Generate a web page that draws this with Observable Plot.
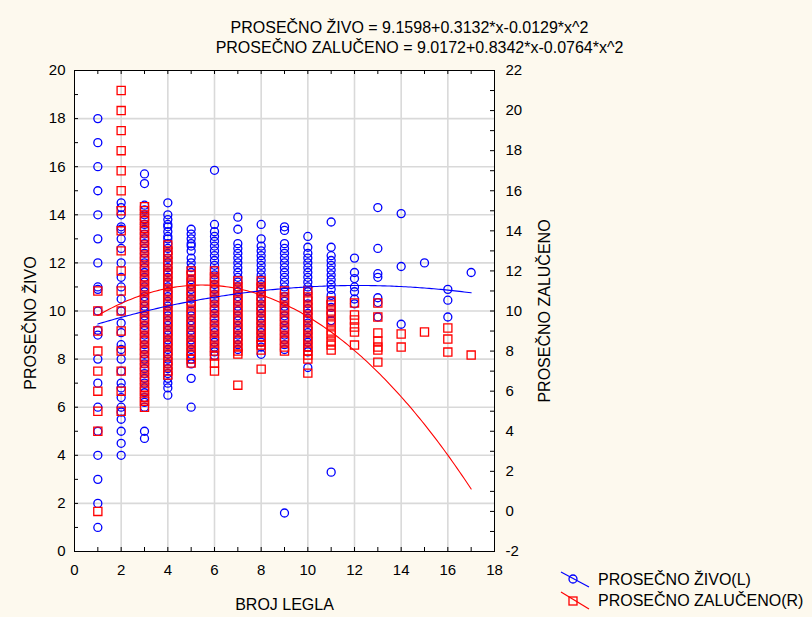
<!DOCTYPE html>
<html>
<head>
<meta charset="utf-8">
<script src="https://cdn.jsdelivr.net/npm/d3@7"></script>
<script src="https://cdn.jsdelivr.net/npm/@observablehq/plot@0.6"></script>
<style>
  html, body { margin: 0; padding: 0; background: #fdf9ee; }
  #wrap { position: relative; width: 812px; height: 617px; background: #fdf9ee; font-family: "Liberation Sans", Arial, sans-serif; }
  #wrap svg.plot { position: absolute; left: 0; top: 0; }
  .leg { position: absolute; left: 598px; font-size: 16px; line-height: 20px; color: #000; white-space: nowrap; }
  #legicons { position: absolute; left: 556px; top: 565px; }
</style>
</head>
<body>
<div id="wrap"></div>
<script>
// ---- data ----
const leglaX = [1, 2, 3, 4, 5, 6, 7, 8, 9, 10, 11, 12, 13, 14, 15, 16, 17];

// PROSEČNO ŽIVO (left axis), one list per BROJ LEGLA value
const zivoValues = [
  [18, 17, 16, 15, 14, 13, 12, 11, 10.9, 10, 9.2, 9, 8, 7, 6, 5, 4, 3, 2, 1],
  [14.5, 14.3, 14, 13.5, 13.4, 13, 12.6, 12, 11.4, 11, 10.5, 10, 9.5, 9.1, 8.6, 8.4, 8, 7.5, 7, 6.8, 6.4, 6, 5.8, 5.5, 5, 4.5, 4],
  [15.7, 15.3, 14.4, 14.2, 14, 13.8, 13.6, 13.4, 13.2, 13, 12.8, 12.6, 12.4, 12.2, 12, 11.8, 11.6, 11.4, 11.2, 11, 10.8, 10.6, 10.4, 10.2, 10, 9.8, 9.6, 9.4, 9.2, 9, 8.8, 8.6, 8.4, 8.2, 8, 7.8, 7.6, 7.4, 7.2, 7, 6.8, 6.6, 6.4, 6.2, 6, 5, 4.7],
  [14.5, 14, 13.8, 13.6, 13.5, 13.3, 13.1, 13, 12.8, 12.6, 12.4, 12.2, 12, 11.8, 11.6, 11.4, 11.2, 11, 10.8, 10.6, 10.4, 10.2, 10, 9.8, 9.6, 9.4, 9.2, 9, 8.8, 8.6, 8.4, 8.2, 8, 7.8, 7.6, 7.4, 7.2, 7, 6.8, 6.5],
  [13.4, 13.2, 13, 12.8, 12.7, 12.5, 12.2, 12, 11.8, 11.6, 11.3, 11.1, 10.9, 10.7, 10.5, 10.3, 10, 9.8, 9.6, 9.4, 9.2, 9, 8.8, 8.6, 8.4, 8.2, 8, 7.8, 7.2, 6],
  [15.85, 13.6, 13.3, 13.1, 12.9, 12.7, 12.5, 12.3, 12.1, 11.9, 11.7, 11.5, 11.3, 11.1, 10.9, 10.7, 10.5, 10.3, 10.1, 9.9, 9.7, 9.5, 9.3, 9.1, 8.9, 8.7, 8.5, 8.3, 8.15],
  [13.9, 13.4, 12.8, 12.6, 12.4, 12.2, 12, 11.8, 11.6, 11.4, 11.2, 11, 10.8, 10.6, 10.4, 10.2, 10, 9.8, 9.6, 9.4, 9.2, 9, 8.8, 8.6, 8.4],
  [13.6, 13, 12.7, 12.5, 12.3, 12.1, 11.9, 11.7, 11.5, 11.3, 11.1, 10.9, 10.7, 10.5, 10.3, 10.1, 9.9, 9.7, 9.5, 9.3, 9.1, 8.9, 8.7, 8.5, 8.2],
  [13.5, 13.35, 12.8, 12.6, 12.4, 12.2, 12, 11.8, 11.6, 11.4, 11.2, 11, 10.8, 10.6, 10.4, 10.2, 10, 9.8, 9.6, 9.4, 9.2, 9, 8.8, 8.6, 8.4, 1.6],
  [13.1, 12.65, 12.4, 12.2, 12, 11.8, 11.6, 11.4, 11.2, 11, 10.8, 10.55, 10.3, 10.1, 9.9, 9.7, 9.5, 9.3, 9.1, 8.9, 8.7, 8.5, 8.3, 7.65],
  [13.7, 12.65, 12.3, 12.1, 11.9, 11.7, 11.5, 11.3, 11.1, 10.9, 10.65, 10.4, 10.15, 9.9, 9.6, 3.3],
  [12.2, 11.6, 11.35, 11, 10.8, 10.5, 10.3],
  [14.3, 12.6, 11.55, 11.4, 10.55, 10.35, 9.75],
  [14.05, 11.85, 9.45],
  [12.0],
  [10.9, 10.45, 9.75],
  [11.6]
];

// PROSEČNO ZALUČENO (right axis), one list per BROJ LEGLA value
const zalucenoValues = [
  [11, 10, 9, 8, 7, 6, 5, 4, 0],
  [21, 20, 19, 18, 17, 16, 15, 14, 13, 12, 11, 10, 9, 8, 7, 6, 5],
  [15.2, 15, 14.7, 14.5, 14.2, 14, 13.7, 13.5, 13.2, 13, 12.7, 12.5, 12.2, 12, 11.7, 11.5, 11.2, 11, 10.7, 10.5, 10.2, 10, 9.7, 9.5, 9.2, 9, 8.7, 8.5, 8.2, 8, 7.7, 7.5, 7.2, 7, 6.7, 6.5, 6.2, 6, 5.7, 5.5, 5.2],
  [13.3, 13, 12.8, 12.5, 12.3, 12, 11.8, 11.5, 11.3, 11, 10.8, 10.5, 10.3, 10, 9.8, 9.5, 9.3, 9, 8.8, 8.5, 8.3, 8, 7.8, 7.5, 7.3, 7, 6.8],
  [12, 11.8, 11.5, 11.3, 11, 10.8, 10.5, 10.3, 10, 9.8, 9.5, 9.3, 9, 8.8, 8.5, 8.3, 8, 7.8, 7.6, 7.4],
  [12, 11.7, 11.5, 11.2, 11, 10.7, 10.5, 10.2, 10, 9.7, 9.5, 9.2, 9, 8.7, 8.5, 8.2, 8, 7.75, 7.4, 7],
  [11.5, 11.2, 11, 10.7, 10.5, 10.2, 10, 9.7, 9.5, 9.2, 9, 8.7, 8.5, 8.2, 8, 7.85, 6.3],
  [11.5, 11.2, 11, 10.7, 10.5, 10.2, 10, 9.7, 9.5, 9.2, 9, 8.7, 8.5, 8.3, 8.05, 7.1],
  [11, 10.7, 10.5, 10.2, 10, 9.7, 9.5, 9.2, 9, 8.7, 8.5, 8.2, 8],
  [11, 10.7, 10.5, 10.2, 10, 9.7, 9.5, 9.2, 9, 8.7, 8.5, 8.2, 8, 7.8, 7.6, 6.9],
  [10.5, 10.3, 10, 9.8, 9.5, 9.3, 9, 8.8, 8.5, 8.3, 8.05],
  [10.4, 9.8, 9.55, 9.2, 8.95, 8.3],
  [10.4, 9.7, 8.9, 8.5, 8.2, 8.05, 7.45],
  [8.85, 8.2],
  [8.95],
  [9.15, 8.6, 7.95],
  [7.8]
];

// quadratic fits given in the title: a + b*x + c*x^2
const zivoFit = [9.1598, 0.3132, -0.0129];
const zalucenoFit = [9.0172, 0.8342, -0.0764];

// axis ticks
const xTickLabels = [0, 2, 4, 6, 8, 10, 12, 14, 16, 18];
const xMinorTicks = d3.range(0, 19, 1);
const xGrid = [2, 4, 6, 8, 10, 12, 14, 16];
const yLeftTickLabels = [0, 2, 4, 6, 8, 10, 12, 14, 16, 18, 20];
const yLeftMinorTicks = d3.range(0, 21, 1);
const yGrid = [2, 4, 6, 8, 10, 12, 14, 16, 18];
const yRightTickLabels = [-2, 0, 2, 4, 6, 8, 10, 12, 14, 16, 18, 20, 22];
const yRightMinorTicks = d3.range(-2, 23, 1);

const titleLines = [
  "PROSEČNO ŽIVO = 9.1598+0.3132*x-0.0129*x^2",
  "PROSEČNO ZALUČENO = 9.0172+0.8342*x-0.0764*x^2"
];
const xLabel = "BROJ LEGLA";
const yLeftLabel = "PROSEČNO ŽIVO";
const yRightLabel = "PROSEČNO ZALUČENO";
const legendLabels = ["PROSEČNO ŽIVO(L)", "PROSEČNO ZALUČENO(R)"];

// ---- build ----
const xDomain = [0, 18];
const yDomain = [0, 20];
// right axis (-2..22) mapped onto the left scale (0..20)
const toLeft = v => (v + 2) * 20 / 24;
const fromLeft = y => y * 24 / 20 - 2;

const zivoData = leglaX.flatMap((x, i) => zivoValues[i].map(v => ({x, v})));
const zalucenoData = leglaX.flatMap((x, i) => zalucenoValues[i].map(v => ({x, v})));

const poly = (c, x) => c[0] + c[1] * x + c[2] * x * x;
const fitX = d3.range(1, 17.0001, 0.1);
const zivoCurve = fitX.map(x => ({x, v: poly(zivoFit, x)}));
const zalucenoCurve = fitX.map(x => ({x, v: poly(zalucenoFit, x)}));

const BLUE = "#0000ff";
const RED = "#ff0000";
const GRID = "#d9d9d9";

// tick length of ~4px expressed in scale units (frame 420px x 481px)
const W = 812, H = 617, ML = 74, MR = 318, MT = 70, MB = 66;
const tickLenX = 4 * (xDomain[1] - xDomain[0]) / (W - ML - MR);
const tickLenY = 4 * (yDomain[1] - yDomain[0]) / (H - MT - MB);

const tickStyle = {stroke: "#000", strokeWidth: 1};

const chart = Plot.plot({
  width: W,
  height: H,
  marginLeft: ML,
  marginRight: MR,
  marginTop: MT,
  marginBottom: MB,
  style: {fontFamily: '"Liberation Sans", Arial, sans-serif', fontSize: "15px", background: "transparent", color: "#000"},
  x: {domain: xDomain, axis: null},
  y: {domain: yDomain, axis: null},
  marks: [
    Plot.frame({fill: "white", stroke: "none"}),
    Plot.gridX(xGrid, {stroke: GRID, strokeOpacity: 1, strokeWidth: 1.6}),
    Plot.gridY(yGrid, {stroke: GRID, strokeOpacity: 1, strokeWidth: 1.6}),
    // tick labels
    Plot.axisX(xTickLabels, {anchor: "bottom", tickSize: 0, tickPadding: 13, fontSize: 15, label: null}),
    Plot.axisY(yLeftTickLabels, {anchor: "left", tickSize: 0, tickPadding: 9, fontSize: 15, label: null}),
    Plot.axisY(yRightTickLabels.map(toLeft), {anchor: "right", tickSize: 0, tickPadding: 11, fontSize: 15, label: null,
      tickFormat: d => String(Math.round(fromLeft(d)))}),
    // inward tick marks on all four sides
    Plot.ruleX(xMinorTicks, {x: d => d, y1: yDomain[0], y2: yDomain[0] + tickLenY, ...tickStyle}),
    Plot.ruleX(xMinorTicks, {x: d => d, y1: yDomain[1], y2: yDomain[1] - tickLenY, ...tickStyle}),
    Plot.ruleY(yLeftMinorTicks, {y: d => d, x1: xDomain[0], x2: xDomain[0] + tickLenX, ...tickStyle}),
    Plot.ruleY(yRightMinorTicks, {y: d => toLeft(d), x1: xDomain[1], x2: xDomain[1] - tickLenX, ...tickStyle}),
    // points
    Plot.dot(zivoData, {x: "x", y: "v", r: 4, stroke: BLUE, strokeWidth: 1.3, fill: "none"}),
    Plot.dot(zalucenoData, {x: "x", y: d => toLeft(d.v), r: 4.6, symbol: "square", stroke: RED, strokeWidth: 1.3, fill: "none"}),
    // fitted curves
    Plot.line(zivoCurve, {x: "x", y: "v", stroke: BLUE, strokeWidth: 1.1}),
    Plot.line(zalucenoCurve, {x: "x", y: d => toLeft(d.v), stroke: RED, strokeWidth: 1.1}),
    Plot.frame({stroke: "#000", strokeWidth: 1}),
    // titles and axis labels
    Plot.text([titleLines[0]], {frameAnchor: "top", dx: 125, dy: -43, lineAnchor: "middle", textAnchor: "middle", fontSize: 16, text: d => d}),
    Plot.text([titleLines[1]], {frameAnchor: "top", dx: 135, dy: -23, lineAnchor: "middle", textAnchor: "middle", fontSize: 16, text: d => d}),
    Plot.text([xLabel], {frameAnchor: "bottom", dx: 0, dy: 53, lineAnchor: "middle", textAnchor: "middle", fontSize: 16, text: d => d}),
    Plot.text([yLeftLabel], {frameAnchor: "left", dx: -44, dy: 12, rotate: -90, lineAnchor: "middle", textAnchor: "middle", fontSize: 16, text: d => d}),
    Plot.text([yRightLabel], {frameAnchor: "right", dx: 50, dy: 0, rotate: -90, lineAnchor: "middle", textAnchor: "middle", fontSize: 16, text: d => d})
  ]
});
chart.classList.add("plot");

const wrap = document.getElementById("wrap");
wrap.appendChild(chart);

// legend
const icons = document.createElementNS("http://www.w3.org/2000/svg", "svg");
icons.setAttribute("id", "legicons");
icons.setAttribute("width", "40");
icons.setAttribute("height", "50");
icons.innerHTML = `
  <line x1="5" y1="7" x2="33" y2="22" stroke="${BLUE}" stroke-width="1.2"/>
  <circle cx="17" cy="14" r="4" fill="none" stroke="${BLUE}" stroke-width="1.3"/>
  <line x1="5" y1="27" x2="33" y2="44" stroke="${RED}" stroke-width="1.2"/>
  <rect x="13" y="32" width="8" height="8" fill="none" stroke="${RED}" stroke-width="1.3"/>`;
wrap.appendChild(icons);

legendLabels.forEach((t, i) => {
  const d = document.createElement("div");
  d.className = "leg";
  d.style.top = (570 + i * 21) + "px";
  d.textContent = t;
  wrap.appendChild(d);
});
</script>
</body>
</html>
